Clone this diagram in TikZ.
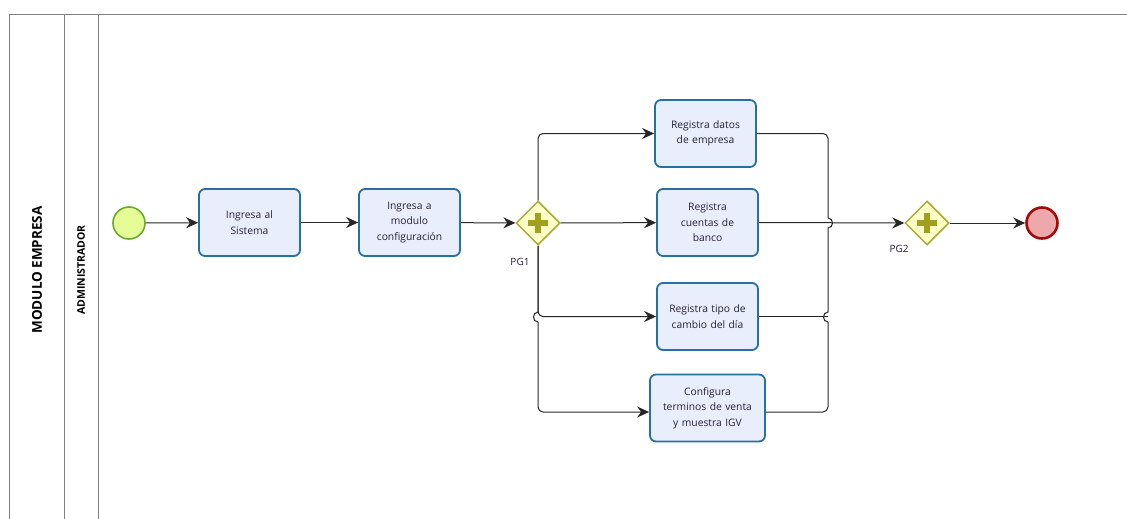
\documentclass[tikz,border=0pt]{standalone}
\usepackage{fontspec}
\setmainfont{Open Sans}
\usetikzlibrary{shapes.geometric,arrows.meta}
\definecolor{taskfill}{RGB}{232,238,251}
\definecolor{taskdraw}{RGB}{38,113,161}
\definecolor{startfill}{RGB}{228,253,150}
\definecolor{startdraw}{RGB}{104,172,44}
\definecolor{endfill}{RGB}{236,168,170}
\definecolor{enddraw}{RGB}{165,10,10}
\definecolor{gwfill}{RGB}{255,255,200}
\definecolor{gwdraw}{RGB}{170,170,50}
\definecolor{gwplus}{RGB}{160,160,30}
\definecolor{lanegray}{RGB}{128,128,128}
\definecolor{txt}{RGB}{40,30,60}
\tikzset{
  lane/.style={draw=lanegray, line width=0.9pt},
  task/.style={draw=taskdraw, fill=taskfill, line width=1.8pt, rounded corners=6pt,
    minimum width=101pt, minimum height=67pt, text width=98pt, align=center,
    font=\fontsize{10.3}{15.5}\selectfont, text=txt, inner sep=0pt},
  gateway/.style={diamond, draw=gwdraw, fill=gwfill, line width=1.5pt,
    minimum width=44pt, minimum height=44pt, inner sep=0pt},
  plusbar/.style={draw=gwplus, line width=5.5pt},
  startev/.style={circle, draw=startdraw, fill=startfill, line width=1.6pt, minimum size=32pt, inner sep=0pt},
  endev/.style={circle, draw=enddraw, fill=endfill, line width=2.6pt, minimum size=31pt, inner sep=0pt},
  seq/.style={draw=black!85, line width=1pt},
  flow/.style={seq, -{Stealth[length=12pt,width=11pt,inset=4pt]}},
  gwlabel/.style={font=\fontsize{10}{12}\selectfont, text=txt, inner sep=0pt}
}
\begin{document}
\begin{tikzpicture}[x=1pt,y=-1pt]
\useasboundingbox (0,0) rectangle (1127,519);
% pool and lane
\draw[lane] (9,519) -- (9,14) -- (1127,14);
\draw[lane] (64,14) -- (64,519);
\draw[lane] (98,14) -- (98,519);
\node[rotate=90, font=\fontsize{13.5}{15}\selectfont\bfseries] (pool) at (37,270) {MODULO EMPRESA};
\node[rotate=90, font=\fontsize{10.5}{12}\selectfont\bfseries] (lanelbl) at (81,270) {ADMINISTRADOR};
% events
\node[startev] (start) at (129,223) {};
\node[endev] (end) at (1042,223) {};
% tasks
\node[task] (t1) at (249.5,222.5) {Ingresa al\\Sistema};
\node[task] (t2) at (409.5,222.5) {Ingresa a\\modulo\\configuración};
\node[task] (tdatos) at (705.5,133.5) {Registra datos\\de empresa};
\node[task] (tbanco) at (707.5,222.5) {Registra\\cuentas de\\banco};
\node[task] (ttipo) at (707.5,316.5) {Registra tipo de\\cambio del día};
\node[task, minimum width=115pt, text width=112pt] (tconf) at (707.5,408) {Configura\\terminos de venta\\y muestra IGV};
% gateways
\node[gateway] (pg1) at (538,223) {};
\draw[plusbar] (pg1.center) ++(-10,0) -- ++(20,0);
\draw[plusbar] (pg1.center) ++(0,-10) -- ++(0,20);
\node[gwlabel] (pg1lbl) at (520,262) {PG1};
\node[gateway] (pg2) at (927,223) {};
\draw[plusbar] (pg2.center) ++(-10,0) -- ++(20,0);
\draw[plusbar] (pg2.center) ++(0,-10) -- ++(0,20);
\node[gwlabel] (pg2lbl) at (899,249) {PG2};
% hop coordinates
\coordinate (l1) at (538,312);
\coordinate (l2) at (538,322);
\coordinate (r1) at (828,218);
\coordinate (r2) at (828,228);
\coordinate (r3) at (828,312);
\coordinate (r4) at (828,322);
\coordinate (c4) at (538,412);
% flows
\draw[flow] (start) -- (t1);
\draw[flow] (t1) -- (t2);
\draw[flow] (t2) -- (pg1);
\draw[flow] (pg1) -- (tbanco);
\draw[flow, rounded corners=5pt] (pg1.north) |- (tdatos.west);
\draw[flow, rounded corners=5pt] (pg1.south) |- (ttipo.west);
\draw[seq] (pg1.south) -- (l1) .. controls +(-6,0) and +(-6,0) .. (l2);
\draw[flow, rounded corners=5pt] (l2) -- (c4) -- (c4 -| tconf.west);
\draw[seq, rounded corners=5pt] (tdatos.east) -| (r1);
\draw[seq] (r1) .. controls +(6,0) and +(6,0) .. (r2) -- (r3) .. controls +(-6,0) and +(-6,0) .. (r4);
\draw[seq, rounded corners=5pt] (r4) |- (c4 -| tconf.east);
\draw[seq] (ttipo.east) -- (ttipo.east -| r3);
\draw[flow] (tbanco.east) -- (pg2.west);
\draw[flow] (pg2) -- (end);
\end{tikzpicture}
\end{document}
